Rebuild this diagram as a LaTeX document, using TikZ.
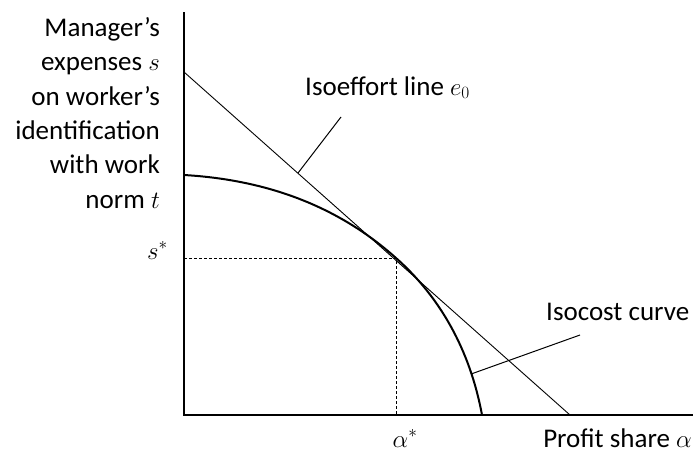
\documentclass[tikz,border=0pt]{standalone}
\usepackage{fontspec}
\setmainfont{Carlito}
\usetikzlibrary{positioning}

\begin{document}
\begin{tikzpicture}[
    x=1pt,
    y=-1pt,
    font=\fontsize{27}{34.3}\selectfont,
    axisline/.style={line width=1.4pt},
    effortline/.style={line width=0.9pt},
    costcurve/.style={line width=2pt},
    guideline/.style={dash pattern=on 3pt off 2pt, line width=0.8pt},
    leaderline/.style={line width=1pt},
    textlabel/.style={inner sep=0pt}
]

\useasboundingbox (0,0) rectangle (693,453);

%% AXES %%
\coordinate (origin) at (184,415);
\coordinate (ytop) at (184,12);
\coordinate (xend) at (693,415);
\draw [axisline] (ytop) -- (origin) -- (xend);

%% AXIS LABELS %%
\node (ylabel) [textlabel, align=right, anchor=base east] at (160,208) {
    Manager's\\
    expenses $s$\\
    on worker's\\
    identification\\
    with work\\
    norm $t$
};
\node (xlabel) [textlabel, anchor=base east] at (692,447) {Profit share $\alpha$};

%% ISOEFFORT LINE %%
\coordinate (effort_top) at (184,72);
\coordinate (effort_bot) at (570,415);
\draw [effortline] (effort_top) -- coordinate[pos=0.295] (effort_pt) (effort_bot);

%% ISOCOST CURVE %%
\coordinate (cost_start) at (184,175);
\coordinate (optimum) at (396,258);
\coordinate (cost_end) at (482,415);
\draw [costcurve] (cost_start) .. controls (270,180) and (340,208) .. (optimum)
    .. controls (440,297) and (470,350) .. coordinate[pos=0.78] (cost_pt) (cost_end);

%% OPTIMUM GUIDES %%
\coordinate (s_axis) at (184,258);
\coordinate (a_axis) at (396,415);
\draw [guideline] (s_axis) -- (optimum) -- (a_axis);

\node (sstar) [textlabel, anchor=base east] at (168,259) {$s^*$};
\node (astar) [textlabel, anchor=base] at (405,447) {$\alpha^*$};

%% CURVE LABELS %%
\node (effort_label) [textlabel, anchor=base west] at (305,95) {Isoeffort line $e_0$};
\node (cost_label) [textlabel, anchor=base west] at (546,320) {Isocost curve};

\coordinate (effort_tip) at (341,117);
\coordinate (cost_tip) at (580,335);
\draw [leaderline] (effort_pt) -- (effort_tip);
\draw [leaderline] (cost_pt) -- (cost_tip);

\end{tikzpicture}
\end{document}
